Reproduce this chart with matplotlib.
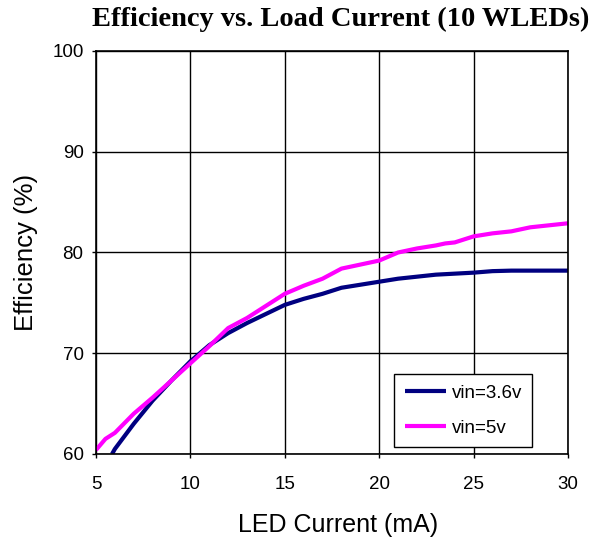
import matplotlib
matplotlib.use("Agg")
import matplotlib.pyplot as plt

x_36 = [5.85, 6, 7, 8, 9, 10, 11, 12, 13, 14, 15, 16, 17, 18, 19, 20, 21, 22, 23, 24, 25, 26, 27, 28, 29, 30]
y_36 = [60.0, 60.5, 63.0, 65.3, 67.3, 69.2, 70.8, 72.0, 73.0, 73.9, 74.8, 75.4, 75.9, 76.5, 76.8, 77.1, 77.4, 77.6, 77.8, 77.9, 78.0, 78.15, 78.2, 78.2, 78.2, 78.2]
x_5 = [5, 5.5, 6, 7, 8, 9, 10, 11, 12, 13, 14, 15, 16, 17, 18, 19, 20, 21, 22, 23, 23.5, 24, 25, 26, 27, 28, 29, 30]
y_5 = [60.4, 61.5, 62.1, 64.0, 65.6, 67.3, 69.0, 70.7, 72.5, 73.5, 74.7, 75.9, 76.7, 77.4, 78.4, 78.8, 79.2, 80.0, 80.4, 80.7, 80.9, 81.0, 81.6, 81.9, 82.1, 82.5, 82.7, 82.9]
labels = ["vin=3.6v", "vin=5v"]
colors = ["#000080", "#FF00FF"]

plt.rcParams['font.family'] = ['Liberation Sans', 'DejaVu Sans']
W, H = 602, 542
fig = plt.figure(figsize=(W / 100, H / 100), dpi=100)
ax = fig.add_axes([96 / W, 1 - 454 / H, (568 - 96) / W, (454 - 51) / H])

ax.plot(x_36, y_36, color=colors[0], lw=3, label=labels[0], solid_capstyle='butt')
ax.plot(x_5, y_5, color=colors[1], lw=3, label=labels[1], solid_capstyle='butt')

ax.set_xlim(5, 30)
ax.set_ylim(60, 100)
ax.set_xticks([5, 10, 15, 20, 25, 30])
ax.set_yticks([60, 70, 80, 90, 100])
ax.grid(True, color='black', lw=1)
ax.tick_params(direction='out', length=3, width=1, labelsize=13.5, color='black')
ax.tick_params(axis='x', pad=13)
ax.tick_params(axis='y', pad=6)
for s in ax.spines.values():
    s.set_color('black')
    s.set_linewidth(1.2)

ax.set_xlabel("LED Current (mA)", fontsize=18)
ax.xaxis.set_label_coords(0.513, -0.147)
ax.set_ylabel("Efficiency (%)", fontsize=18.5)
ax.yaxis.set_label_coords(-0.122, 0.5)
fig.text(341 / W, 1 - 26 / H, "Efficiency vs. Load Current (10 WLEDs)", fontsize=20.5,
         fontweight='bold', family=['Liberation Serif', 'DejaVu Serif'],
         ha='center', va='baseline')

leg = ax.legend(loc='lower right', bbox_to_anchor=(0.924, 0.017), borderaxespad=0,
                fontsize=13.5, frameon=True, fancybox=False, edgecolor='black',
                framealpha=1, handlelength=2.2, borderpad=0.55, labelspacing=0.95,
                handletextpad=0.3)
leg.get_frame().set_linewidth(1)

fig.savefig("out.png", dpi=100)
